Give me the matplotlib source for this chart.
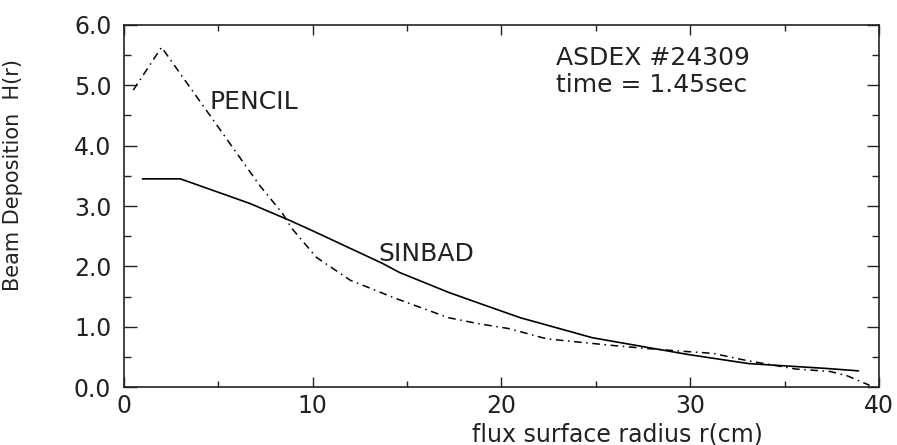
import numpy as np
import matplotlib
matplotlib.use('agg')
import matplotlib.pyplot as plt
from matplotlib.ticker import MultipleLocator, FormatStrFormatter

# SINBAD calculation (solid)
r_sinbad = [1.0, 3.0, 6.7, 8.8, 10.0, 13.7, 14.6, 17.2, 19.0, 21.0, 22.5, 24.8,
            27.7, 29.9, 33.1, 37.2, 38.9]
h_sinbad = [3.45, 3.45, 3.04, 2.76, 2.59, 2.05, 1.90, 1.57, 1.37, 1.15, 1.02, 0.82,
            0.66, 0.54, 0.39, 0.31, 0.27]

# PENCIL calculation (dashed)
r_pencil = [0.5, 2.0, 7.2, 8.4, 8.9, 10.2, 12.0, 14.4, 17.2, 18.8, 20.4, 22.4,
            25.9, 27.7, 29.8, 31.2, 33.0, 35.6, 37.4, 38.3, 39.5]
h_pencil = [4.92, 5.63, 3.34, 2.88, 2.63, 2.15, 1.77, 1.47, 1.15, 1.05, 0.97, 0.80,
            0.69, 0.64, 0.59, 0.56, 0.44, 0.30, 0.26, 0.19, 0.03]

fig = plt.figure(figsize=(8.97, 4.45), dpi=100)
ax = fig.add_axes((0.138, 0.130, 0.842, 0.814))

ax.plot(r_sinbad, h_sinbad, color='black', lw=1.2, ls='-')
ax.plot(r_pencil, h_pencil, color='black', lw=1.1, ls=(0, (5, 3, 1, 3)))

ax.set_xlim(0, 40)
ax.set_ylim(0, 6)
ax.xaxis.set_major_locator(MultipleLocator(10))
ax.xaxis.set_minor_locator(MultipleLocator(5))
ax.yaxis.set_major_locator(MultipleLocator(1))
ax.yaxis.set_minor_locator(MultipleLocator(0.5))
ax.yaxis.set_major_formatter(FormatStrFormatter('%.1f'))

ax.tick_params(axis='both', which='both', direction='in', top=True, right=True,
               width=1.0, colors='#222222', labelsize=17)
ax.tick_params(axis='y', which='major', length=9, pad=9)
ax.tick_params(axis='y', which='minor', length=5)
ax.tick_params(axis='x', which='major', length=7, pad=5)
ax.tick_params(axis='x', which='minor', length=4)
for sp in ax.spines.values():
    sp.set_linewidth(1.2)
    sp.set_color('#222222')

ax.set_xlabel('flux surface radius r(cm)', fontsize=17, color='#222222')
ax.xaxis.set_label_coords(0.653, -0.097)
ax.set_ylabel('Beam Deposition  H(r)', fontsize=15, color='#222222')
ax.yaxis.set_label_coords(-0.134, 0.585)

ax.text(4.55, 4.72, 'PENCIL', fontsize=18, va='center', ha='left', color='#222222')
ax.text(13.5, 2.21, 'SINBAD', fontsize=18, va='center', ha='left', color='#222222')
ax.text(22.9, 5.45, 'ASDEX #24309', fontsize=18, va='center', ha='left', color='#222222')
ax.text(22.9, 5.00, 'time = 1.45sec', fontsize=18, va='center', ha='left', color='#222222')

fig.savefig('out.png', dpi=100)
